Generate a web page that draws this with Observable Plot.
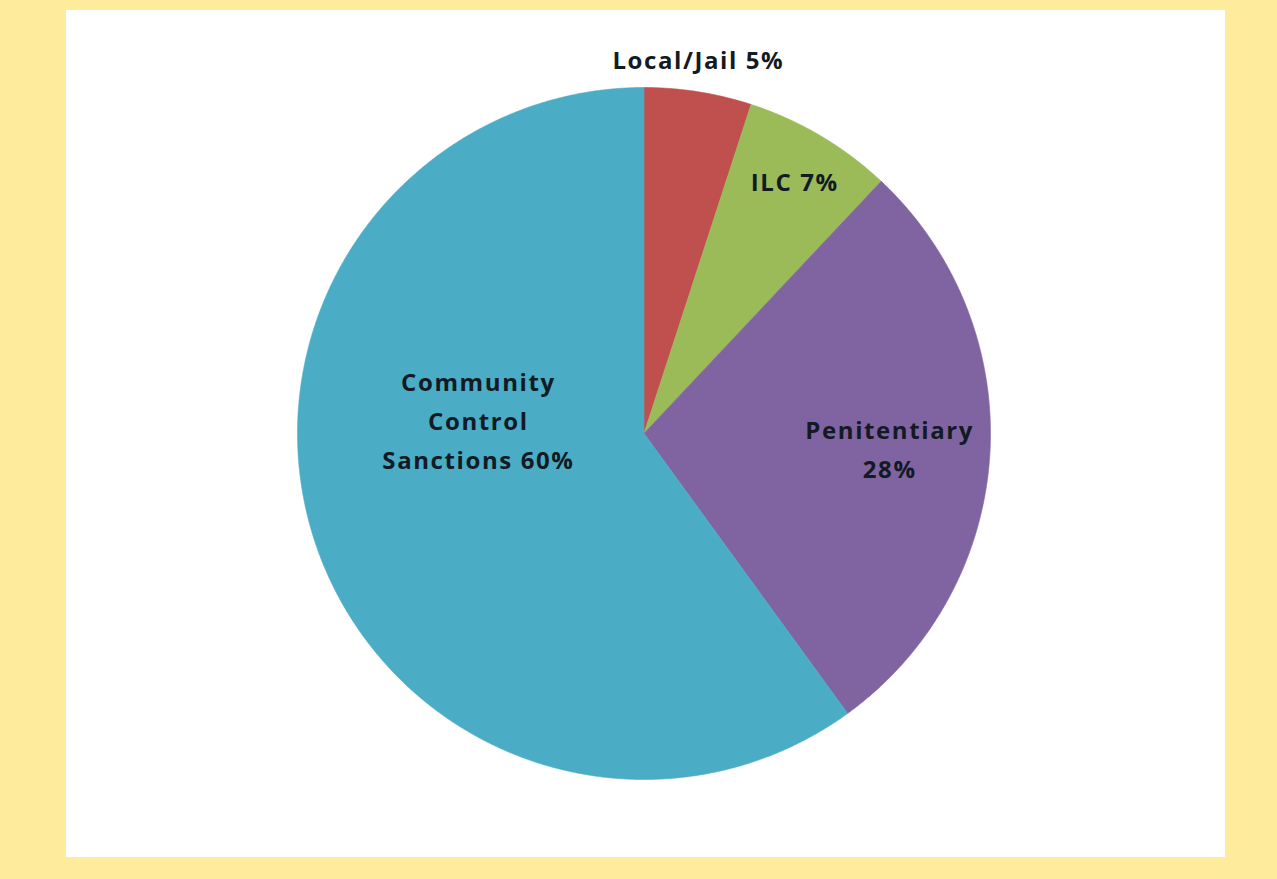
<!DOCTYPE html>
<html><head><meta charset="utf-8">
<script src="https://cdn.jsdelivr.net/npm/d3@7"></script>
<script src="https://cdn.jsdelivr.net/npm/@observablehq/plot@0.6"></script>
<style>
html,body{margin:0;padding:0;background:#FFEB9C;}
#wrap{position:relative;width:1277px;height:879px;overflow:hidden;background:#FFEB9C;}
#panel{position:absolute;left:66px;top:10px;width:1159px;height:847px;background:#fff;}
#chart{position:absolute;left:0;top:0;}
</style></head><body>
<div id="wrap"><div id="panel"></div><div id="chart"></div></div>
<script>
// Data
const categories = ["Local/Jail", "ILC", "Penitentiary", "Community Control Sanctions"];
const shares = [5, 7, 28, 60];
const labels = ["Local/Jail 5%", "ILC 7%", "Penitentiary\n28%", "Community\nControl\nSanctions 60%"];
const colors = ["#C0504D", "#9BBB59", "#8064A2", "#4BACC6"];

// Label layout (radius as fraction of pie radius, extra angle shift in degrees)
const labelRadius = [1.10, 0.855, 0.71, 0.48];
const labelShift = [-0.8, 0, -0.6, 23.4];

const rows = categories.map((c, i) => ({cat: c, share: shares[i], label: labels[i], i}));
const arcs = d3.pie().sort(null).value(d => d.share)(rows);

const pts = [];
for (const a of arcs) {
  pts.push({cat: a.data.cat, x: 0, y: 0});
  const n = Math.max(2, Math.ceil((a.endAngle - a.startAngle) / (Math.PI / 720)));
  for (let k = 0; k <= n; k++) {
    const t = a.startAngle + (a.endAngle - a.startAngle) * k / n;
    pts.push({cat: a.data.cat, x: Math.sin(t), y: Math.cos(t)});
  }
  pts.push({cat: a.data.cat, x: 0, y: 0});
}

const labelPts = arcs.map(a => {
  const i = a.data.i;
  const t = (a.startAngle + a.endAngle) / 2 + labelShift[i] * Math.PI / 180;
  return {label: a.data.label, x: labelRadius[i] * Math.sin(t), y: labelRadius[i] * Math.cos(t)};
});

const chart = Plot.plot({
  width: 1277,
  height: 879,
  marginLeft: 297,
  marginRight: 287,
  marginTop: 87,
  marginBottom: 100,
  x: {domain: [-1, 1], axis: null},
  y: {domain: [-1, 1], axis: null},
  color: {domain: categories, range: colors},
  style: {background: "transparent", overflow: "visible", letterSpacing: "1.6px"},
  marks: [
    Plot.line(pts, {x: "x", y: "y", z: "cat", fill: "cat", stroke: "cat", strokeWidth: 0.6, curve: "linear"}),
    Plot.text(labelPts, {
      x: "x", y: "y", text: "label",
      fontFamily: "Open Sans", fontWeight: "bold", fontSize: 24,
      lineHeight: 1.63, fill: "#121a24", textAnchor: "middle"
    })
  ]
});
document.getElementById("chart").appendChild(chart);
</script>
</body></html>
